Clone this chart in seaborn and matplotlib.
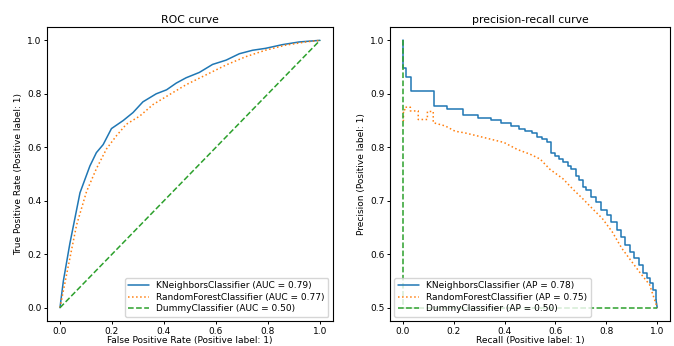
import numpy as np
import pandas as pd
import seaborn as sns
import matplotlib
matplotlib.use("Agg")
import matplotlib.pyplot as plt

# ROC curves (false positive rate, true positive rate)
knn_fpr = [0, 0.013, 0.038, 0.077, 0.115, 0.14, 0.166, 0.198, 0.243, 0.281, 0.319, 0.37,
           0.41, 0.447, 0.485, 0.536, 0.587, 0.639, 0.69, 0.741, 0.79, 0.856, 0.92, 1.0]
knn_tpr = [0, 0.10, 0.24, 0.43, 0.53, 0.58, 0.61, 0.67, 0.70, 0.73, 0.77, 0.80,
           0.815, 0.84, 0.86, 0.88, 0.91, 0.926, 0.95, 0.963, 0.97, 0.984, 0.994, 1.0]
rf_fpr = [0, 0.026, 0.064, 0.102, 0.14, 0.179, 0.217, 0.255, 0.307, 0.358, 0.409, 0.485,
          0.562, 0.639, 0.715, 0.79, 0.868, 0.945, 1.0]
rf_tpr = [0, 0.127, 0.31, 0.434, 0.52, 0.594, 0.643, 0.686, 0.717, 0.76, 0.79, 0.834,
          0.871, 0.908, 0.939, 0.963, 0.982, 0.994, 1.0]
dummy_fpr = [0, 1]
dummy_tpr = [0, 1]

# precision-recall curves (recall, precision)
knn_rec = [0, 0.002, 0.012, 0.033, 0.123, 0.174, 0.238, 0.296, 0.345, 0.386, 0.424, 0.456,
           0.482, 0.508, 0.527, 0.546, 0.566, 0.581, 0.598, 0.614, 0.63, 0.649, 0.662, 0.679,
           0.692, 0.707, 0.72, 0.739, 0.758, 0.778, 0.803, 0.82, 0.842, 0.859, 0.874, 0.893,
           0.91, 0.928, 0.945, 0.958, 0.97, 0.983, 0.995]
knn_prec = [1.0, 0.948, 0.932, 0.906, 0.878, 0.872, 0.861, 0.854, 0.851, 0.846, 0.84, 0.835,
            0.83, 0.826, 0.82, 0.815, 0.809, 0.79, 0.784, 0.778, 0.773, 0.765, 0.76, 0.747,
            0.738, 0.725, 0.72, 0.707, 0.698, 0.682, 0.673, 0.66, 0.645, 0.633, 0.617, 0.605,
            0.593, 0.58, 0.565, 0.556, 0.546, 0.534, 0.515]
knn_rec_end = [0.995, 1.0]
knn_prec_end = [0.515, 0.5]
rf_rec = [0, 0.003, 0.003, 0.008, 0.008, 0.03, 0.03, 0.061, 0.061, 0.097, 0.097, 0.12,
          0.12, 0.167, 0.206, 0.244, 0.296, 0.347, 0.398, 0.45, 0.501, 0.54, 0.578, 0.63,
          0.668, 0.707, 0.746, 0.784, 0.823, 0.861, 0.9, 0.938, 0.97, 1.0]
rf_prec = [0.85, 0.85, 0.87, 0.87, 0.875, 0.875, 0.868, 0.868, 0.852, 0.852, 0.867, 0.867,
           0.846, 0.84, 0.83, 0.827, 0.821, 0.815, 0.809, 0.796, 0.787, 0.778, 0.759, 0.741,
           0.722, 0.704, 0.685, 0.667, 0.642, 0.611, 0.586, 0.562, 0.543, 0.5]
dummy_rec = [0, 0, 1]
dummy_prec = [1.0, 0.5, 0.5]

sns.set_style("ticks")
plt.rcParams["font.family"] = ["DejaVu Sans"]
plt.rcParams["axes.edgecolor"] = "black"
plt.rcParams["xtick.color"] = "black"
plt.rcParams["ytick.color"] = "black"
plt.rcParams["text.color"] = "black"
plt.rcParams["axes.labelcolor"] = "black"

colors = sns.color_palette("tab10")
fs = 6.5
narrow = ["Liberation Sans Narrow", "DejaVu Sans"]

fig = plt.figure(figsize=(6.74, 3.46), dpi=100)
ax1 = fig.add_axes([0.0697, 0.072, 0.4243, 0.85])
ax2 = fig.add_axes([0.5786, 0.072, 0.4154, 0.85])

# ROC
sns.lineplot(x=knn_fpr, y=knn_tpr, ax=ax1, color=colors[0], lw=1.1,
             label="KNeighborsClassifier (AUC = 0.79)", estimator=None, sort=False)
sns.lineplot(x=rf_fpr, y=rf_tpr, ax=ax1, color=colors[1], lw=1.1, linestyle=":",
             label="RandomForestClassifier (AUC = 0.77)", estimator=None, sort=False)
sns.lineplot(x=dummy_fpr, y=dummy_tpr, ax=ax1, color=colors[2], lw=1.1, linestyle="--",
             label="DummyClassifier (AUC = 0.50)", estimator=None, sort=False)
ax1.set_title("ROC curve", fontsize=7.8, pad=3)
ax1.set_xlabel("False Positive Rate (Positive label: 1)", fontsize=fs, labelpad=0)
ax1.set_ylabel("True Positive Rate (Positive label: 1)", fontsize=fs, labelpad=3,
               family=narrow)
ax1.set_xlim(-0.05, 1.05)
ax1.set_ylim(-0.05, 1.05)
ax1.set_xticks(np.arange(0, 1.01, 0.2))
ax1.set_yticks(np.arange(0, 1.01, 0.2))
ax1.legend(loc="lower right", fontsize=fs, handlelength=2.3, borderpad=0.4,
           labelspacing=0.25, frameon=True)

# precision-recall
sns.lineplot(x=knn_rec, y=knn_prec, ax=ax2, color=colors[0], lw=1.1, drawstyle="steps-post",
             label="KNeighborsClassifier (AP = 0.78)", estimator=None, sort=False)
sns.lineplot(x=knn_rec_end, y=knn_prec_end, ax=ax2, color=colors[0], lw=1.1,
             estimator=None, sort=False)
sns.lineplot(x=rf_rec, y=rf_prec, ax=ax2, color=colors[1], lw=1.1, linestyle=":",
             label="RandomForestClassifier (AP = 0.75)", estimator=None, sort=False)
sns.lineplot(x=dummy_rec, y=dummy_prec, ax=ax2, color=colors[2], lw=1.1, linestyle="--",
             label="DummyClassifier (AP = 0.50)", estimator=None, sort=False)
ax2.set_title("precision-recall curve", fontsize=7.8, pad=3)
ax2.set_xlabel("Recall (Positive label: 1)", fontsize=fs, labelpad=0)
ax2.set_ylabel("Precision (Positive label: 1)", fontsize=fs, labelpad=3, family=narrow)
ax2.set_xlim(-0.05, 1.05)
ax2.set_ylim(0.475, 1.025)
ax2.set_xticks(np.arange(0, 1.01, 0.2))
ax2.set_yticks(np.arange(0.5, 1.01, 0.1))
ax2.legend(loc="lower left", fontsize=fs, handlelength=2.3, borderpad=0.4,
           labelspacing=0.25, frameon=True)

for ax in (ax1, ax2):
    ax.tick_params(labelsize=fs, length=2.5, width=0.7, pad=1.5)
    for s in ax.spines.values():
        s.set_linewidth(0.8)

fig.savefig("out.png", dpi=100)
